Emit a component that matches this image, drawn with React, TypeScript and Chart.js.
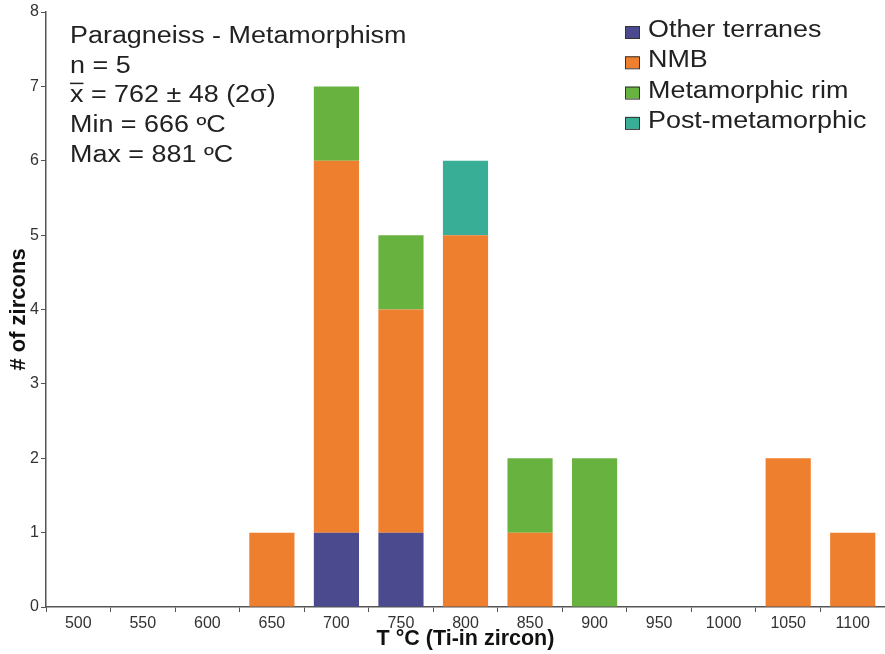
import React, { useEffect, useRef } from "react";
import { Chart, registerables } from "chart.js";

Chart.register(...registerables);

const categories = ["500", "550", "600", "650", "700", "750", "800", "850", "900", "950", "1000", "1050", "1100"];
const otherTerranes = [0, 0, 0, 0, 1, 1, 0, 0, 0, 0, 0, 0, 0];
const nmb = [0, 0, 0, 1, 5, 3, 5, 1, 0, 0, 0, 2, 1];
const metamorphicRim = [0, 0, 0, 0, 1, 1, 0, 1, 2, 0, 0, 0, 0];
const postMetamorphic = [0, 0, 0, 0, 0, 0, 1, 0, 0, 0, 0, 0, 0];

const seriesNames = ["Other terranes", "NMB", "Metamorphic rim", "Post-metamorphic"];
const seriesColors = ["#4b4a8e", "#ee7f2e", "#68b240", "#38ae97"];

const statsTitle = "Paragneiss - Metamorphism";
const statsLines = ["n = 5", "x = 762 ± 48 (2σ)", "Min = 666 ºC", "Max = 881 ºC"];

const FONT = "'Liberation Sans', Arial, sans-serif";

const overlayPlugin = {
  id: "overlay",
  afterDraw(chart: any) {
    const ctx = chart.ctx as CanvasRenderingContext2D;
    ctx.save();
    ctx.fillStyle = "#222";
    ctx.textBaseline = "alphabetic";
    ctx.textAlign = "left";
    const sx = 1.17;
    const drawText = (t: string, x: number, y: number, size: number) => {
      ctx.save();
      ctx.translate(x, y);
      ctx.scale(sx, 1);
      ctx.font = `${size}px ${FONT}`;
      ctx.fillText(t, 0, 0);
      ctx.restore();
    };
    // stats block
    const lines = [statsTitle, ...statsLines];
    lines.forEach((t, i) => drawText(t, 70, 43 + i * 29.7, 23));
    // overline over x
    ctx.save();
    ctx.font = `23px ${FONT}`;
    const xw = ctx.measureText("x").width * sx;
    ctx.strokeStyle = "#222";
    ctx.lineWidth = 1.5;
    ctx.beginPath();
    ctx.moveTo(70, 43 + 2 * 29.7 - 19);
    ctx.lineTo(70 + xw, 43 + 2 * 29.7 - 19);
    ctx.stroke();
    ctx.restore();
    // legend
    seriesNames.forEach((name, i) => {
      const base = 37 + i * 30.3;
      ctx.fillStyle = seriesColors[i];
      ctx.fillRect(625, base - 11, 14, 12);
      ctx.strokeStyle = "#333";
      ctx.lineWidth = 1;
      ctx.strokeRect(625.5, base - 10.5, 14, 12);
      ctx.fillStyle = "#222";
      drawText(name, 648, base, 23);
    });
    ctx.restore();
  },
};

export default function App() {
  const ref = useRef<HTMLCanvasElement | null>(null);
  useEffect(() => {
    if (!ref.current) return;
    const data = [otherTerranes, nmb, metamorphicRim, postMetamorphic];
    const chart = new Chart(ref.current, {
      type: "bar",
      data: {
        labels: categories,
        datasets: seriesNames.map((name, i) => ({
          label: name,
          data: data[i],
          backgroundColor: seriesColors[i],
          borderWidth: 0,
          barPercentage: 0.7,
          categoryPercentage: 1,
        })),
      },
      options: {
        animation: false,
        responsive: false,
        maintainAspectRatio: false,
        layout: { padding: { top: 12, right: 0, left: 0, bottom: 0 } },
        plugins: { legend: { display: false }, tooltip: { enabled: false } },
        scales: {
          x: {
            stacked: true,
            offset: true,
            afterFit: (s: any) => { s.height = 47; },
            border: { color: "#555", width: 1.5 },
            grid: { display: true, drawOnChartArea: false, tickLength: 5, color: "#555", offset: true },
            ticks: { color: "#333", font: { family: FONT, size: 16 }, padding: 2, maxRotation: 0 },
            title: { display: true, text: "T °C (Ti-in zircon)", color: "#111", font: { family: FONT, size: 21.5, weight: "bold" }, padding: 2 },
          },
          y: {
            stacked: true,
            min: 0,
            max: 8,
            afterFit: (s: any) => { s.width = 46; },
            border: { color: "#555", width: 1.5 },
            grid: { display: true, drawOnChartArea: false, tickLength: 5, color: "#555" },
            ticks: { stepSize: 1, color: "#333", font: { family: FONT, size: 16 }, padding: 2 },
            title: { display: true, text: "# of zircons", color: "#111", font: { family: FONT, size: 22, weight: "bold" }, padding: 6 },
          },
        },
      },
      plugins: [overlayPlugin],
    });
    return () => chart.destroy();
  }, []);
  return (
    <div style={{ position: "fixed", left: 0, top: 0, width: 885, height: 654, background: "#fff" }}>
      <canvas ref={ref} width={885} height={654} />
    </div>
  );
}
